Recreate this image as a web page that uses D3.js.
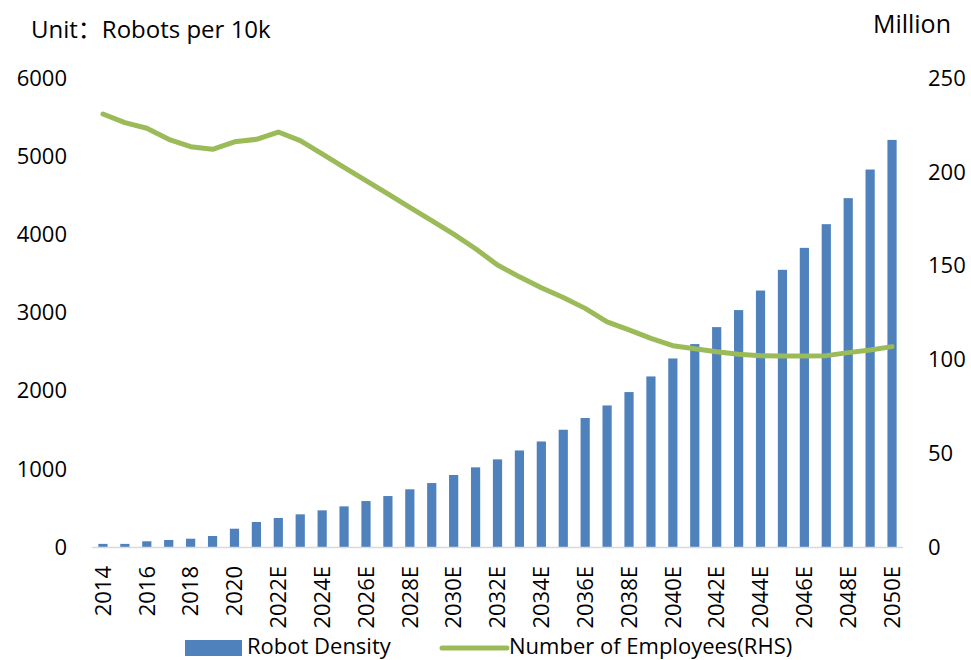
<!DOCTYPE html>
<html>
<head>
<meta charset="utf-8">
<script src="https://cdn.jsdelivr.net/npm/d3@7/dist/d3.min.js"></script>
<style>
  html, body { margin: 0; padding: 0; background: #fff; }
  svg { display: block; font-family: "Open Sans", sans-serif; }
</style>
</head>
<body>
<div id="chart"></div>
<script>
var years = ["2014", "2015", "2016", "2017", "2018", "2019", "2020", "2021",
  "2022E", "2023E", "2024E", "2025E", "2026E", "2027E", "2028E", "2029E",
  "2030E", "2031E", "2032E", "2033E", "2034E", "2035E", "2036E", "2037E",
  "2038E", "2039E", "2040E", "2041E", "2042E", "2043E", "2044E", "2045E",
  "2046E", "2047E", "2048E", "2049E", "2050E"];

// robots per 10k employees (left axis)
var robotDensity = [40, 40, 73, 90, 106, 141, 234, 320,
  371, 418, 469, 520, 588, 652, 738, 818,
  921, 1019, 1121, 1235, 1350, 1500, 1650, 1811,
  1982, 2182, 2412, 2596, 2813, 3031, 3281, 3546,
  3827, 4130, 4463, 4829, 5208];

// number of employees, million (right axis)
var employees = [230.8, 226.2, 223.2, 217.3, 213.4, 212, 216, 217.3,
  221.2, 216.6, 209.5, 202.4, 195.3, 188.2, 181, 174,
  166.8, 159, 150.3, 144, 138.2, 133, 127.2, 120,
  115.7, 111.2, 107.3, 105.7, 104.1, 102.7, 102, 101.8,
  101.8, 102, 103.6, 105, 106.8];

var leftTicks = [0, 1000, 2000, 3000, 4000, 5000, 6000];
var rightTicks = [0, 50, 100, 150, 200, 250];

var width = 971, height = 660;
var plot = {left: 92, right: 903, top: 78, bottom: 547};

var svg = d3.select("#chart").append("svg")
  .attr("width", width)
  .attr("height", height);

var x = d3.scaleBand()
  .domain(years)
  .range([plot.left, plot.right])
  .paddingInner(0.58)
  .paddingOuter(0.29);

var yLeft = d3.scaleLinear().domain([0, 6000]).range([plot.bottom, plot.top]);
var yRight = d3.scaleLinear().domain([0, 250]).range([plot.bottom, plot.top]);

// bars
svg.append("g")
  .selectAll("rect")
  .data(years)
  .join("rect")
  .attr("x", function (d) { return x(d); })
  .attr("width", x.bandwidth())
  .attr("y", function (d, i) { return yLeft(robotDensity[i]); })
  .attr("height", function (d, i) { return plot.bottom - yLeft(robotDensity[i]); })
  .attr("fill", "#4F81BD");

// category axis line
svg.append("line")
  .attr("x1", plot.left)
  .attr("x2", plot.right)
  .attr("y1", plot.bottom + 0.5)
  .attr("y2", plot.bottom + 0.5)
  .attr("stroke", "#D9D9D9")
  .attr("stroke-width", 1.5);

// x labels, every second year, rotated
svg.append("g")
  .selectAll("text")
  .data(years.filter(function (d, i) { return i % 2 === 0; }))
  .join("text")
  .attr("transform", function (d) {
    return "translate(" + (x(d) + x.bandwidth() / 2) + "," + 566 + ") rotate(-90)";
  })
  .attr("text-anchor", "end")
  .attr("dy", "0.35em")
  .attr("font-size", 22)
  .attr("fill", "#000")
  .text(function (d) { return d; });

// left axis labels
svg.append("g")
  .selectAll("text")
  .data(leftTicks)
  .join("text")
  .attr("x", 67)
  .attr("y", function (d) { return yLeft(d); })
  .attr("dy", "0.35em")
  .attr("text-anchor", "end")
  .attr("font-size", 22)
  .attr("fill", "#000")
  .text(function (d) { return d; });

// right axis labels
svg.append("g")
  .selectAll("text")
  .data(rightTicks)
  .join("text")
  .attr("x", 928)
  .attr("y", function (d) { return yRight(d); })
  .attr("dy", "0.35em")
  .attr("text-anchor", "start")
  .attr("font-size", 22)
  .attr("fill", "#000")
  .text(function (d) { return d; });

// employees line
var line = d3.line()
  .x(function (d, i) { return x(years[i]) + x.bandwidth() / 2; })
  .y(function (d) { return yRight(d); });

svg.append("path")
  .datum(employees)
  .attr("d", line)
  .attr("fill", "none")
  .attr("stroke", "#9BBB59")
  .attr("stroke-width", 5)
  .attr("stroke-linejoin", "round")
  .attr("stroke-linecap", "round");

// unit titles
var title = svg.append("text")
  .attr("x", 31)
  .attr("y", 38)
  .attr("font-size", 24)
  .attr("fill", "#000");
title.append("tspan").text("Unit");
title.append("tspan")
  .attr("font-family", "'Noto Sans CJK SC', sans-serif")
  .text("：");
title.append("tspan").text("Robots per 10k");

svg.append("text")
  .attr("x", 951)
  .attr("y", 33)
  .attr("text-anchor", "end")
  .attr("font-size", 25)
  .attr("fill", "#000")
  .text("Million");

// legend
var legend = svg.append("g");
legend.append("rect")
  .attr("x", 185)
  .attr("y", 640)
  .attr("width", 57)
  .attr("height", 16)
  .attr("fill", "#4F81BD");
legend.append("text")
  .attr("x", 247)
  .attr("y", 654)
  .attr("font-size", 22)
  .attr("fill", "#000")
  .text("Robot Density");
legend.append("line")
  .attr("x1", 442)
  .attr("x2", 507)
  .attr("y1", 648)
  .attr("y2", 648)
  .attr("stroke", "#9BBB59")
  .attr("stroke-width", 5)
  .attr("stroke-linecap", "round");
legend.append("text")
  .attr("x", 509)
  .attr("y", 654)
  .attr("font-size", 22)
  .attr("fill", "#000")
  .text("Number of Employees(RHS)");
</script>
</body>
</html>
